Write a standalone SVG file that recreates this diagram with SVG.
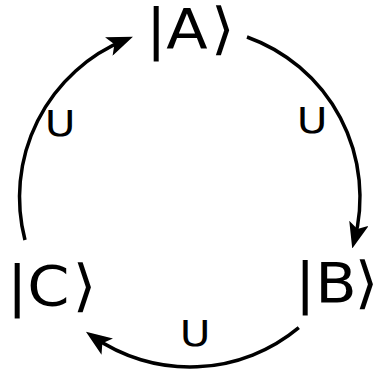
<svg xmlns="http://www.w3.org/2000/svg" width="375" height="379" viewBox="0 0 375 379">
<style>
.k{font-family:"DejaVu Sans",sans-serif;fill:#000}
.ket{font-size:56px}
.u{font-size:35px;text-anchor:middle}
.arc{fill:none;stroke:#000;stroke-width:3.5}
</style>
<defs>
<marker id="ah" viewBox="0 0 26 20" refX="18" refY="10" markerWidth="26" markerHeight="20" orient="auto" markerUnits="userSpaceOnUse">
<path d="M0,0 L26,10 L0,20 L6,10 z" fill="#000"/>
</marker>
</defs>
<rect width="375" height="379" fill="#fff"/>
<g id="connectors">
<path class="arc" d="M25,240 A170,170 0 0 1 125.5,39.7" marker-end="url(#ah)"/>
<path class="arc" d="M247,37 A170,170 0 0 1 354.3,240.7" marker-end="url(#ah)"/>
<path class="arc" d="M298.8,327.6 A170,170 0 0 1 92.5,336.3" marker-end="url(#ah)"/>
</g>
<g id="nodeA"><text class="k ket" transform="translate(146,48) scale(1.08,1)">|A<tspan dx="3">⟩</tspan></text></g>
<g id="nodeB"><text class="k ket" transform="translate(295,302) scale(1.08,1)">|B<tspan dx="-2">⟩</tspan></text></g>
<g id="nodeC"><text class="k ket" transform="translate(7,305) scale(1.08,1)">|C<tspan dx="3">⟩</tspan></text></g>
<g id="labels">
<text class="k u" transform="translate(60,136) scale(1.2,1)">U</text>
<text class="k u" transform="translate(312,133) scale(1.2,1)">U</text>
<text class="k u" transform="translate(195,346) scale(1.2,1)">U</text>
</g>
</svg>
